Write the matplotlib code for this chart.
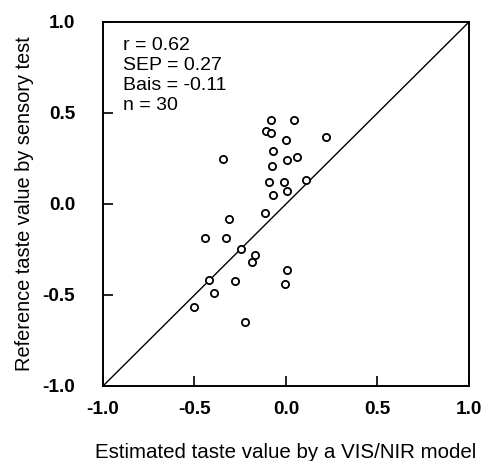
import matplotlib.pyplot as plt

plt.rcParams['font.family'] = ['Liberation Sans', 'DejaVu Sans']

# estimated (VIS/NIR) vs reference (sensory) taste values
est = [-0.084, 0.043, -0.107, -0.080, 0.000, 0.220, -0.070, -0.343, 0.007, 0.058,
       -0.079, -0.094, -0.010, 0.112, 0.003, -0.073, -0.112, -0.312, -0.440, -0.327,
       -0.247, -0.172, -0.185, 0.003, -0.420, -0.277, -0.005, -0.394, -0.500, -0.225]
ref = [0.460, 0.460, 0.400, 0.390, 0.350, 0.370, 0.290, 0.245, 0.240, 0.260,
       0.210, 0.120, 0.120, 0.130, 0.070, 0.050, -0.048, -0.080, -0.185, -0.187,
       -0.250, -0.280, -0.320, -0.360, -0.420, -0.425, -0.440, -0.490, -0.565, -0.647]

ticks = [-1.0, -0.5, 0.0, 0.5, 1.0]
stats = ['r = 0.62', 'SEP = 0.27', 'Bais = -0.11', 'n = 30']

fig = plt.figure(figsize=(4.82, 4.61), dpi=100)
ax = fig.add_axes([0.2137, 0.1627, 0.7593, 0.7896])

ax.plot([-1, 1], [-1, 1], color='black', lw=1.0)
ax.plot(est, ref, 'o', ms=5.2, mfc='white', mec='black', mew=1.3, ls='none')

ax.set_xlim(-1, 1)
ax.set_ylim(-1, 1)
ax.set_xticks(ticks)
ax.set_yticks(ticks)
ax.set_xticklabels([f'{t:.1f}' for t in ticks], fontsize=13.7, fontweight='bold')
ax.set_yticklabels([f'{t:.1f}' for t in ticks], fontsize=13.7, fontweight='bold')
ax.tick_params(direction='in', length=7, width=1.2)
ax.tick_params(axis='y', pad=20)
ax.tick_params(axis='x', pad=11)
for s in ax.spines.values():
    s.set_linewidth(1.4)

ax.set_xlabel('Estimated taste value by a VIS/NIR model', fontsize=14.8, labelpad=18)
ax.set_ylabel('Reference taste value by sensory test', fontsize=14.4, labelpad=6)

ax.text(0.055, 0.96, '\n'.join(stats), transform=ax.transAxes, fontsize=14,
        va='top', ha='left', linespacing=1.24)

fig.savefig('out.png', dpi=100)
